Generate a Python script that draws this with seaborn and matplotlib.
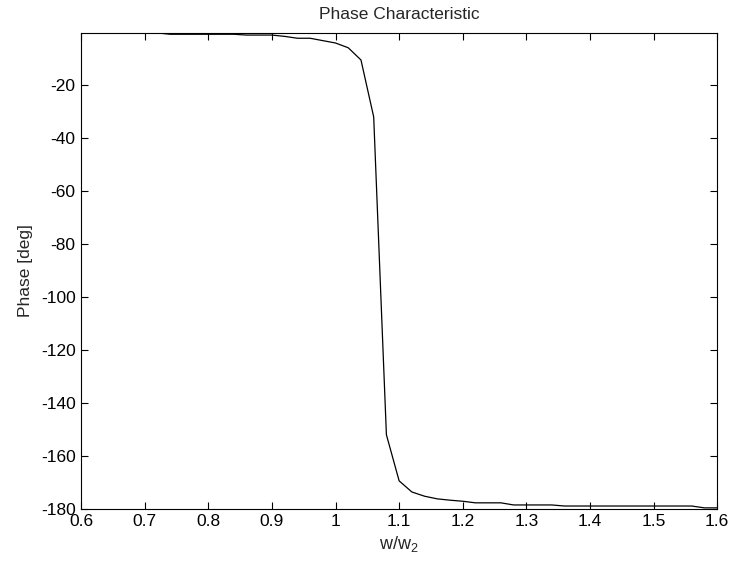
from matplotlib import pyplot as plt
import pandas as pd
import seaborn as sns

# frequency ratio w/w2 and phase in degrees
ratio = [0.60, 0.62, 0.64, 0.66, 0.68, 0.70, 0.72, 0.74, 0.76, 0.78,
         0.80, 0.82, 0.84, 0.86, 0.88, 0.90, 0.92, 0.94, 0.96, 0.98,
         1.00, 1.02, 1.04, 1.06, 1.08, 1.10, 1.12, 1.14, 1.16, 1.18,
         1.20, 1.22, 1.24, 1.26, 1.28, 1.30, 1.32, 1.34, 1.36, 1.38,
         1.40, 1.42, 1.44, 1.46, 1.48, 1.50, 1.52, 1.54, 1.56, 1.58, 1.60]
phase = [-0.3, -0.3, -0.3, -0.3, -0.3, -0.3, -0.3, -0.8, -0.8, -0.8,
         -0.8, -0.8, -0.8, -1.1, -1.1, -1.1, -1.6, -2.3, -2.3, -3.2,
         -4.1, -5.9, -10.5, -32.0, -152.0, -169.4, -173.6, -175.2, -176.2, -176.7,
         -177.1, -177.7, -177.7, -177.7, -178.5, -178.5, -178.5, -178.5, -178.9, -178.9,
         -178.9, -178.9, -178.9, -178.9, -178.9, -178.9, -178.9, -178.9, -178.9, -179.6, -179.6]

df = pd.DataFrame({'ratio': ratio, 'phase': phase})

sns.set_style('ticks')
plt.rcParams['font.family'] = ['Liberation Sans', 'DejaVu Sans']
plt.rcParams['mathtext.fontset'] = 'custom'
plt.rcParams['mathtext.rm'] = 'Liberation Sans'
plt.rcParams['axes.unicode_minus'] = False

fig = plt.figure(figsize=(7.31, 5.68), dpi=100)
ax = fig.add_axes([0.111, 0.104, 0.870, 0.838])

sns.lineplot(data=df, x='ratio', y='phase', color='black', linewidth=0.9, ax=ax)

ax.set_xlim(0.6, 1.6)
ax.set_ylim(-180, -0.3)
ax.set_xticks([0.6, 0.7, 0.8, 0.9, 1.0, 1.1, 1.2, 1.3, 1.4, 1.5, 1.6])
ax.set_xticklabels(['0.6', '0.7', '0.8', '0.9', '1', '1.1', '1.2', '1.3', '1.4', '1.5', '1.6'])
ax.set_yticks([-180, -160, -140, -120, -100, -80, -60, -40, -20])
ax.tick_params(direction='in', top=True, right=True, labelsize=12.5, length=5, width=0.8,
               colors='black', pad=4)
for s in ax.spines.values():
    s.set_linewidth(0.8)
    s.set_color('black')

ax.set_title('Phase Characteristic', fontsize=12.5, pad=10)
ax.set_xlabel(r'w/w$\mathregular{_2}$', fontsize=13, labelpad=3)
ax.set_ylabel('Phase [deg]', fontsize=12.5, labelpad=6)

fig.savefig('out.png', dpi=100)
